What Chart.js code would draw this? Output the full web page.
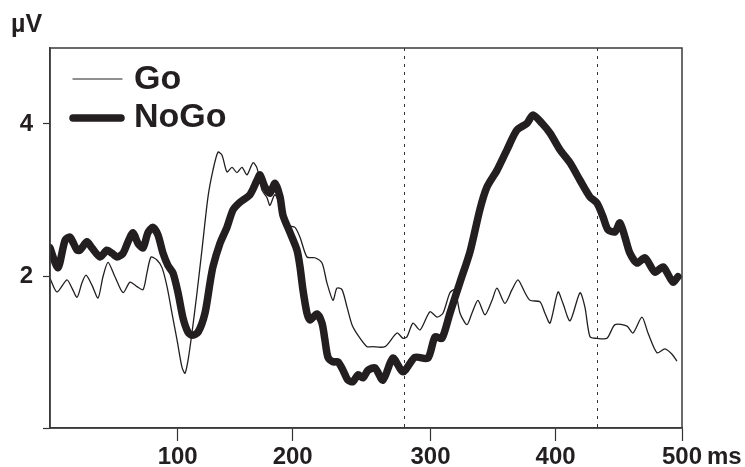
<!DOCTYPE html>
<html>
<head>
<meta charset="utf-8">
<script src="https://cdn.jsdelivr.net/npm/chart.js@4/dist/chart.umd.min.js"></script>
<style>
  body { margin: 0; background: #fff; }
  canvas { display: block; }
</style>
</head>
<body>
<canvas id="erpChart" width="745" height="467"></canvas>
<script>
// --- data (ms, µV) ---
const goTime = [0, 5.5, 13.4, 17.4, 21.4, 25.3, 28.5, 33.2, 38.0, 41.9, 45.9, 51.4, 57.8, 63.3, 68.8, 73.6, 76.7, 79.9, 84.6, 88.6,
    92.6, 96.5, 100.5, 104.4, 106.8, 109.2, 112.3, 116.3, 120.2, 125.0, 128.9, 132.9, 136.1, 140.0, 144.0, 147.9, 151.9, 155.8, 160.6, 163.8,
    167.7, 171.7, 174.0, 178.0, 183.5, 188.3, 193.8, 197.8, 203.3, 209.6, 215.2, 219.1, 223.9, 227.0, 231.0, 235.0, 238.9, 243.7, 250.8, 254.7,
    265.0, 274.5, 279.3, 282.4, 287.2, 292.7, 300.6, 306.2, 310.9, 316.4, 320.4, 324.4, 329.9, 333.8, 338.6, 344.1, 349.7, 353.6, 359.9, 365.5,
    370.2, 375.8, 379.7, 387.6, 391.6, 395.6, 401.9, 405.8, 411.4, 419.3, 423.2, 427.2, 432.7, 440.6, 447.0, 456.5, 461.2, 468.3, 473.1, 480.2,
    486.5, 492.1, 496.0];
const goValues = [1.97, 1.79, 1.95, 1.84, 1.72, 1.91, 2.01, 1.88, 1.71, 1.99, 2.18, 1.99, 1.78, 1.92, 1.86, 1.82, 2.04, 2.25, 2.21, 2.11,
    1.86, 1.51, 1.16, 0.80, 0.72, 0.89, 1.25, 1.78, 2.34, 3.04, 3.39, 3.63, 3.59, 3.37, 3.43, 3.36, 3.43, 3.33, 3.49, 3.42,
    3.13, 3.03, 2.93, 3.07, 2.87, 2.67, 2.64, 2.51, 2.25, 2.24, 2.17, 1.91, 1.68, 1.84, 1.82, 1.59, 1.36, 1.22, 1.07, 1.07,
    1.07, 1.25, 1.18, 1.20, 1.38, 1.29, 1.53, 1.46, 1.51, 1.78, 1.82, 1.51, 1.36, 1.51, 1.68, 1.49, 1.68, 1.84, 1.64, 1.82,
    1.95, 1.78, 1.68, 1.66, 1.51, 1.38, 1.79, 1.64, 1.41, 1.78, 1.59, 1.20, 1.18, 1.18, 1.36, 1.34, 1.25, 1.46, 1.25, 0.99,
    1.04, 0.97, 0.88];

const nogoTime = [0, 6.3, 11.9, 15.8, 21.4, 23.7, 29.3, 33.2, 39.6, 45.1, 49.0, 53.0, 57.8, 61.7, 65.7, 69.6, 73.6, 77.5, 81.5, 85.4,
    89.4, 93.3, 97.3, 101.3, 105.2, 109.2, 112.3, 117.1, 122.6, 126.6, 128.9, 134.5, 140.0, 144.8, 150.3, 158.2, 163.8, 166.1, 170.1, 174.0,
    178.0, 182.0, 184.3, 189.9, 195.4, 197.8, 200.1, 203.3, 205.7, 211.2, 215.2, 217.5, 219.9, 223.9, 227.8, 231.8, 235.7, 239.7, 243.7, 247.6,
    251.6, 257.1, 263.4, 271.3, 279.3, 288.8, 299.0, 304.6, 310.1, 316.4, 324.4, 332.3, 340.2, 345.7, 353.6, 361.5, 369.4, 377.4, 382.1, 389.2,
    395.6, 403.5, 411.4, 419.3, 427.2, 432.7, 437.5, 441.4, 447.0, 450.9, 454.9, 458.8, 464.4, 470.7, 478.6, 485.0, 492.8, 496.8];
const nogoValues = [2.37, 2.11, 2.47, 2.51, 2.34, 2.34, 2.45, 2.37, 2.25, 2.34, 2.30, 2.25, 2.30, 2.45, 2.57, 2.43, 2.37, 2.57, 2.64, 2.54,
    2.30, 2.14, 2.04, 1.78, 1.45, 1.26, 1.22, 1.26, 1.51, 1.91, 2.12, 2.43, 2.64, 2.87, 2.97, 3.07, 3.26, 3.33, 3.17, 3.09,
    3.22, 3.04, 2.80, 2.57, 2.34, 2.12, 1.82, 1.51, 1.42, 1.50, 1.38, 1.16, 0.93, 0.87, 0.87, 0.76, 0.63, 0.61, 0.70, 0.66,
    0.76, 0.79, 0.63, 0.92, 0.74, 0.93, 0.92, 1.20, 1.18, 1.51, 1.92, 2.32, 2.88, 3.17, 3.39, 3.66, 3.92, 4.01, 4.12, 4.01,
    3.88, 3.66, 3.49, 3.26, 3.04, 2.96, 2.78, 2.61, 2.58, 2.70, 2.51, 2.30, 2.17, 2.24, 2.05, 2.12, 1.92, 1.99];

// dotted markers (ms)
const markerTimes = [280, 433];

// x ticks sit where they are drawn in the figure (spacing is uneven there)
const xTickPositions = [101, 192, 301, 400, 500];
const xTickLabels = ["100", "200", "300", "400", "500"];
const yTickPositions = [0, 2, 4];
const yTickLabels = ["", "2", "4"];

const INK = "#231f20";
const FONT = "'Liberation Sans', Arial, sans-serif";

function toPoints(times, values) {
    return times.map((t, i) => ({ x: t, y: values[i] }));
}

// frame, dotted markers, legend, unit labels
const decorPlugin = {
    id: "decor",
    beforeDatasetsDraw(chart) {
        const ctx = chart.ctx;
        const a = chart.chartArea;
        const xs = chart.scales.x;
        ctx.save();
        ctx.strokeStyle = "#333";
        ctx.lineWidth = 1;
        ctx.setLineDash([3, 5]);
        markerTimes.forEach(t => {
            const px = Math.round(xs.getPixelForValue(t)) + 0.5;
            ctx.beginPath();
            ctx.moveTo(px, a.top);
            ctx.lineTo(px, a.bottom);
            ctx.stroke();
        });
        ctx.restore();
    },
    afterDraw(chart) {
        const ctx = chart.ctx;
        const a = chart.chartArea;
        const xs = chart.scales.x;
        ctx.save();
        // box
        ctx.strokeStyle = "#3a3a3a";
        ctx.lineWidth = 1.5;
        ctx.strokeRect(a.left, a.top, a.right - a.left, a.bottom - a.top);

        // legend
        ctx.strokeStyle = INK;
        ctx.lineCap = "round";
        ctx.lineWidth = 1.2;
        ctx.beginPath(); ctx.moveTo(73, 79); ctx.lineTo(122, 79); ctx.stroke();
        ctx.lineWidth = 7.5;
        ctx.beginPath(); ctx.moveTo(73, 118); ctx.lineTo(121, 118); ctx.stroke();
        ctx.fillStyle = INK;
        ctx.font = "bold 34px " + FONT;
        ctx.textBaseline = "middle";
        ctx.textAlign = "left";
        ctx.fillText(chart.data.datasets[0].label, 134, 80);
        ctx.fillText(chart.data.datasets[1].label, 134, 118);

        // units
        ctx.font = "bold 25px " + FONT;
        ctx.fillText("µV", 11, 25);
        ctx.font = "bold 24px " + FONT;
        ctx.textBaseline = "alphabetic";
        ctx.fillText("ms", xs.getPixelForValue(500) + 25, 464);
        ctx.restore();
    }
};

new Chart(document.getElementById("erpChart"), {
    type: "line",
    data: {
        datasets: [
            {
                label: "Go",
                data: toPoints(goTime, goValues),
                borderColor: INK,
                borderWidth: 1.3,
                pointRadius: 0,
                tension: 0.25
            },
            {
                label: "NoGo",
                data: toPoints(nogoTime, nogoValues),
                borderColor: INK,
                borderWidth: 7.5,
                borderJoinStyle: "round",
                borderCapStyle: "round",
                pointRadius: 0,
                tension: 0.25
            }
        ]
    },
    options: {
        responsive: false,
        animation: false,
        layout: { padding: { left: 0, right: 63, top: 48, bottom: 0 } },
        plugins: { legend: { display: false }, tooltip: { enabled: false } },
        scales: {
            x: {
                type: "linear",
                min: 0,
                max: 500,
                afterBuildTicks: s => { s.ticks = xTickPositions.map(v => ({ value: v })); },
                afterFit: s => { s.height = 39; },
                grid: { drawOnChartArea: false, tickLength: 13, color: "#333", tickWidth: 1.2 },
                border: { color: "#3a3a3a", width: 1.5 },
                ticks: {
                    autoSkip: false,
                    maxRotation: 0,
                    padding: 2,
                    color: INK,
                    font: { family: FONT, size: 24, weight: "bold" },
                    callback: (v, i) => xTickLabels[i]
                }
            },
            y: {
                min: 0,
                max: 5,
                afterBuildTicks: s => { s.ticks = yTickPositions.map(v => ({ value: v })); },
                afterFit: s => { s.width = 50; },
                grid: { drawOnChartArea: false, tickLength: 7, color: "#333", tickWidth: 1.2 },
                border: { color: "#3a3a3a", width: 1.5 },
                ticks: {
                    padding: 10,
                    color: INK,
                    font: { family: FONT, size: 24, weight: "bold" },
                    callback: (v, i) => yTickLabels[i]
                }
            }
        }
    },
    plugins: [decorPlugin]
});
</script>
</body>
</html>
